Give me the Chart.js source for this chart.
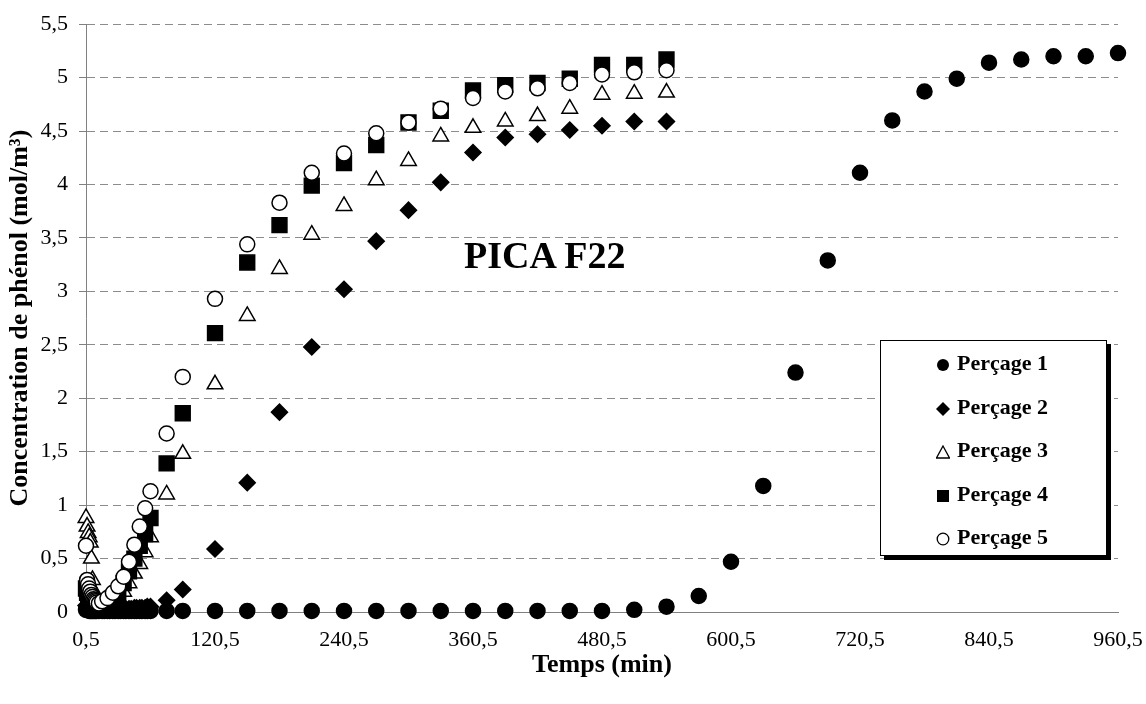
<!DOCTYPE html>
<html>
<head>
<meta charset="utf-8">
<script src="https://cdn.jsdelivr.net/npm/chart.js@4.4.0/dist/chart.umd.min.js"></script>
<style>
  html, body { margin: 0; padding: 0; background: #fff; }
  #wrap { position: relative; width: 1146px; height: 704px; overflow: hidden; }
  #c { position: absolute; left: 0; top: 0; }
  #legend { position: absolute; left: 880px; top: 340px; width: 227px; height: 216px;
    border: 1px solid #000; box-shadow: 4px 4px 0 #000; background: #fff; box-sizing: border-box; }
  .li { position: absolute; left: 0; height: 30px; line-height: 30px; white-space: nowrap;
    font: bold 22px "Liberation Serif", "Times New Roman", serif; color: #000; }
  .li svg { position: absolute; left: 55px; top: 8px; }
  .li span { position: absolute; left: 76px; top: 0; }
  #note { position: absolute; left: 464px; top: 236px; font: bold 38px/38px "Liberation Serif", "Times New Roman", serif; color: #000; white-space: nowrap; }
</style>
</head>
<body>
<div id="wrap">
  <canvas id="c" width="1146" height="704"></canvas>
  <div id="note">PICA F22</div>
  <div id="legend"></div>
</div>
<script>
// ---- data ----
const seriesNames = ['Perçage 1', 'Perçage 2', 'Perçage 3', 'Perçage 4', 'Perçage 5'];

// dense early sampling (Perçage 1 and 2)
const timesEarly = [0.5, 1.5, 2.5, 3.5, 4.5, 5.5, 6.5, 7.5, 8.5, 9.5, 10.5, 12.5, 15.5, 17.5, 20.5, 22.5,
  25.5, 27.5, 30.5, 32.5, 35.5, 37.5, 40.5, 42.5, 45.5, 47.5, 50.5, 52.5, 55.5, 57.5, 60.5];
// early sampling for Perçage 3, 4 and 5
const timesEarlyB = [0.5, 1.5, 2.5, 3.5, 4.5, 5.5, 6.5, 7.5, 8.5, 9.5, 10.5, 12.5, 15.5,
  20.5, 25.5, 30.5, 35.5, 40.5, 45.5, 50.5, 55.5, 60.5];
const timesLate = [75.5, 90.5, 120.5, 150.5, 180.5, 210.5, 240.5, 270.5, 300.5, 330.5, 360.5, 390.5,
  420.5, 450.5, 480.5, 510.5, 540.5];
const timesTail = [570.5, 600.5, 630.5, 660.5, 690.5, 720.5, 750.5, 780.5, 810.5, 840.5, 870.5, 900.5, 930.5, 960.5];

const p1Early = [0.02, 0.02, 0.02, 0.01, 0.01, 0.01, 0.01, 0.01, 0.01, 0.01, 0.01, 0.01, 0.01, 0.01, 0.01, 0.01,
  0.01, 0.01, 0.01, 0.01, 0.01, 0.01, 0.01, 0.01, 0.01, 0.01, 0.01, 0.01, 0.01, 0.01, 0.01];
const p1Late = [0.01, 0.01, 0.01, 0.01, 0.01, 0.01, 0.01, 0.01, 0.01, 0.01, 0.01, 0.01, 0.01, 0.01, 0.01, 0.02, 0.05];
const p1Tail = [0.15, 0.47, 1.18, 2.24, 3.29, 4.11, 4.60, 4.87, 4.99, 5.14, 5.17, 5.20, 5.20, 5.23];

const p2Early = [0.06, 0.05, 0.05, 0.04, 0.04, 0.04, 0.04, 0.03, 0.03, 0.03, 0.03, 0.03, 0.03, 0.03, 0.03, 0.03,
  0.03, 0.03, 0.03, 0.03, 0.03, 0.03, 0.03, 0.03, 0.04, 0.04, 0.04, 0.04, 0.04, 0.05, 0.05];
const p2Late = [0.11, 0.21, 0.59, 1.21, 1.87, 2.48, 3.02, 3.47, 3.76, 4.02, 4.30, 4.44, 4.47, 4.51, 4.55, 4.59, 4.59];

const p3Early = [0.88, 0.80, 0.74, 0.70, 0.65, 0.50, 0.30, 0.20, 0.15, 0.12, 0.10, 0.08, 0.07,
  0.07, 0.09, 0.13, 0.19, 0.27, 0.36, 0.45, 0.56, 0.70];
const p3Late = [1.10, 1.48, 2.13, 2.77, 3.21, 3.53, 3.80, 4.04, 4.22, 4.45, 4.53, 4.59, 4.64, 4.71, 4.84, 4.85, 4.86];

const p4Early = [0.22, 0.18, 0.15, 0.12, 0.10, 0.08, 0.07, 0.06, 0.05, 0.05, 0.04, 0.04, 0.04,
  0.06, 0.11, 0.17, 0.27, 0.38, 0.50, 0.62, 0.73, 0.88];
const p4Late = [1.39, 1.86, 2.61, 3.27, 3.62, 3.99, 4.20, 4.37, 4.58, 4.69, 4.88, 4.93, 4.95, 4.99, 5.12, 5.12, 5.17];

const p5Early = [0.62, 0.30, 0.26, 0.22, 0.19, 0.16, 0.14, 0.12, 0.11, 0.10, 0.09, 0.08, 0.10,
  0.13, 0.18, 0.24, 0.33, 0.47, 0.63, 0.80, 0.97, 1.13];
const p5Late = [1.67, 2.20, 2.93, 3.44, 3.83, 4.11, 4.29, 4.48, 4.58, 4.71, 4.81, 4.87, 4.90, 4.95, 5.03, 5.05, 5.07];

const xTicks = [0.5, 120.5, 240.5, 360.5, 480.5, 600.5, 720.5, 840.5, 960.5];
const yTicks = [0, 0.5, 1, 1.5, 2, 2.5, 3, 3.5, 4, 4.5, 5, 5.5];

// ---- build ----
function pts(ts, vs) { return ts.map((t, i) => ({ x: t, y: vs[i] })); }
const fam = '"Liberation Serif", "Times New Roman", serif';
const fmt = v => String(Math.round(v * 10) / 10).replace('.', ',');

const styles = [
  { pointStyle: 'circle', radius: 7.5, fill: '#000' },
  { pointStyle: 'rectRot', radius: 8, fill: '#000' },
  { pointStyle: 'triangle', radius: 9, fill: '#fff' },
  { pointStyle: 'rect', radius: 10.5, fill: '#000' },
  { pointStyle: 'circle', radius: 7.5, fill: '#fff' }
];
const seriesData = [
  pts(timesEarly.concat(timesLate, timesTail), p1Early.concat(p1Late, p1Tail)),
  pts(timesEarly.concat(timesLate), p2Early.concat(p2Late)),
  pts(timesEarlyB.concat(timesLate), p3Early.concat(p3Late)),
  pts(timesEarlyB.concat(timesLate), p4Early.concat(p4Late)),
  pts(timesEarlyB.concat(timesLate), p5Early.concat(p5Late))
];

const datasets = seriesNames.map((name, i) => ({
  label: name,
  data: seriesData[i],
  showLine: false,
  clip: false,
  pointStyle: styles[i].pointStyle,
  pointRadius: styles[i].radius,
  pointBackgroundColor: styles[i].fill,
  pointBorderColor: '#000',
  pointBorderWidth: 1.5,
  order: 5 - i
}));

new Chart(document.getElementById('c'), {
  type: 'scatter',
  data: { datasets },
  options: {
    responsive: false,
    animation: false,
    devicePixelRatio: 1,
    layout: { padding: { top: 17, right: 28, left: 0, bottom: 0 } },
    plugins: { legend: { display: false }, tooltip: { enabled: false } },
    scales: {
      x: {
        type: 'linear', min: 0.5, max: 960.5,
        afterBuildTicks: s => { s.ticks = xTicks.map(v => ({ value: v })); },
        afterFit: s => { s.height = 92; s.paddingRight = 0; s.paddingLeft = 0; },
        grid: { drawOnChartArea: false, drawTicks: false },
        border: { color: '#808080', width: 1 },
        ticks: { color: '#000', font: { family: fam, size: 22 }, padding: 15, maxRotation: 0, autoSkip: false, callback: v => fmt(v) },
        title: { display: true, text: 'Temps (min)', color: '#000', font: { family: fam, size: 26, weight: 'bold' }, padding: { top: 0, bottom: 23 } }
      },
      y: {
        type: 'linear', min: 0, max: 5.5,
        afterBuildTicks: s => { s.ticks = yTicks.map(v => ({ value: v })); },
        afterFit: s => { s.width = 86; },
        grid: { color: '#8c8c8c', lineWidth: 1, tickColor: '#808080', tickLength: 7, drawTicks: true },
        border: { color: '#808080', width: 1, dash: [8, 5] },
        ticks: { color: '#000', font: { family: fam, size: 22 }, padding: 11, autoSkip: false, callback: v => fmt(v) },
        title: { display: true, text: 'Concentration de phénol (mol/m³)', color: '#000', font: { family: fam, size: 26, weight: 'bold' }, padding: { top: 5, bottom: 0 } }
      }
    }
  }
});

// ---- HTML legend ----
const legend = document.getElementById('legend');
const svgs = [
  '<svg width="14" height="14"><circle cx="7" cy="7" r="6" fill="#000"/></svg>',
  '<svg width="14" height="14"><polygon points="7,0 14,7 7,14 0,7" fill="#000"/></svg>',
  '<svg width="14" height="14"><polygon points="7,1 13.5,13 0.5,13" fill="#fff" stroke="#000" stroke-width="1.3"/></svg>',
  '<svg width="14" height="14"><rect x="1" y="1" width="12" height="12" fill="#000"/></svg>',
  '<svg width="14" height="14"><circle cx="7" cy="7" r="5.8" fill="#fff" stroke="#000" stroke-width="1.3"/></svg>'
];
const rowTops = [9, 53, 96, 140, 183];
seriesNames.forEach((name, i) => {
  const d = document.createElement('div');
  d.className = 'li';
  d.style.top = rowTops[i] + 'px';
  d.style.width = '220px';
  d.innerHTML = svgs[i] + '<span>' + name + '</span>';
  legend.appendChild(d);
});
</script>
</body>
</html>
